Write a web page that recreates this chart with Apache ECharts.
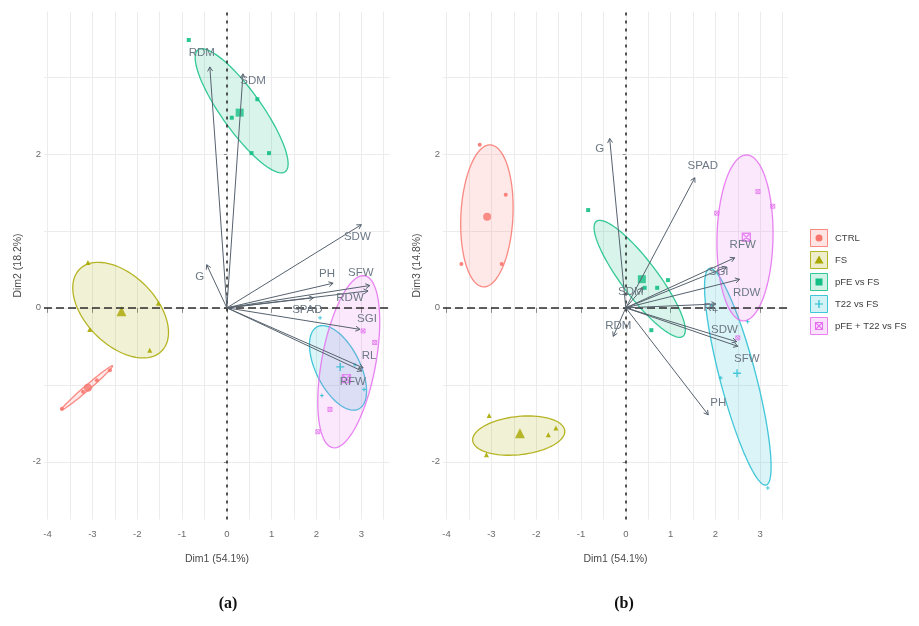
<!DOCTYPE html>
<html>
<head>
<meta charset="utf-8">
<script src="https://cdn.jsdelivr.net/npm/echarts@6/dist/echarts.min.js"></script>
<style>
  html, body { margin: 0; padding: 0; background: #ffffff; }
  #chart { width: 919px; height: 626px; }
</style>
</head>
<body>
<div id="chart"></div>
<script>
// ---------- data ----------
const groups = ["CTRL", "FS", "pFE vs FS", "T22 vs FS", "pFE + T22 vs FS"];
const variables = ["G", "SPAD", "PH", "RL", "SFW", "SDW", "RFW", "RDW", "SDM", "RDM", "SGI"];
const xTicks = [-4, -3, -2, -1, 0, 1, 2, 3];
const yTicks = [-2, 0, 2];

// (a) individual scores, Dim1 x Dim2
const scoresA_CTRL   = [[-3.68, -1.31], [-3.21, -1.09], [-2.90, -0.94], [-2.61, -0.81]];
const scoresA_FS     = [[-3.10, 0.59], [-3.06, -0.28], [-1.72, -0.55], [-1.53, 0.06]];
const scoresA_PFE    = [[-0.85, 3.48], [0.68, 2.71], [0.55, 2.01], [0.94, 2.01], [0.11, 2.47]];
const scoresA_T22    = [[2.12, -1.14], [2.08, -0.13], [3.06, -1.06], [2.86, -0.74]];
const scoresA_PFET22 = [[3.30, -0.45], [3.04, -0.30], [2.03, -1.61], [2.30, -1.32]];

// (a) confidence ellipses: centre, semi-diameter u, semi-diameter v (Dim1, Dim2 units)
const ellipseA_CTRL   = [-3.12, -1.04, 0.57, 0.286, 0.036, -0.025];
const ellipseA_FS     = [-2.37, -0.03, 0.915, -0.532, 0.552, 0.321];
const ellipseA_PFE    = [0.33, 2.56, 0.971, -0.792, 0.364, 0.151];
const ellipseA_T22    = [2.48, -0.78, 0.46, -0.535, 0.44, 0.127];
const ellipseA_PFET22 = [2.72, -0.70, -0.357, -1.117, 0.592, -0.064];

// (a) variable loadings (same order as `variables`)
const loadingsA = [[-0.45, 0.56], [1.93, 0.13], [2.37, 0.32], [3.04, -0.78], [3.19, 0.29],
                   [3.00, 1.08], [3.01, -0.82], [3.15, 0.22], [0.36, 3.04], [-0.38, 3.13], [2.97, -0.28]];

// (b) individual scores, Dim1 x Dim3
const scoresB_CTRL   = [[-3.26, 2.12], [-2.68, 1.47], [-3.67, 0.57], [-2.77, 0.57]];
const scoresB_FS     = [[-3.05, -1.40], [-3.11, -1.91], [-1.73, -1.65], [-1.56, -1.56]];
const scoresB_PFE    = [[-0.84, 1.27], [0.94, 0.36], [0.70, 0.26], [0.57, -0.29], [0.42, 0.26]];
const scoresB_T22    = [[3.17, -2.34], [2.12, -0.91], [1.92, 0.03], [2.72, -0.18]];
const scoresB_PFET22 = [[2.95, 1.51], [3.28, 1.32], [2.03, 1.23], [2.50, -0.39]];

// (b) confidence ellipses
const ellipseB_CTRL   = [-3.10, 1.195, 0.078, 0.922, 0.58, -0.017];
const ellipseB_FS     = [-2.39, -1.66, 1.027, 0.065, 0.045, -0.247];
const ellipseB_PFE    = [0.31, 0.377, 0.967, -0.747, 0.321, 0.140];
const ellipseB_T22    = [2.50, -0.896, 0.633, -1.407, 0.389, 0.059];
const ellipseB_PFET22 = [2.66, 0.909, 0.038, 1.078, 0.625, -0.008];

// (b) variable loadings
const loadingsB = [[-0.36, 2.20], [1.54, 1.69], [1.84, -1.39], [2.01, 0.05], [2.50, -0.50],
                   [2.47, -0.44], [2.43, 0.65], [2.54, 0.37], [0.38, 0.26], [-0.28, -0.37], [2.25, 0.53]];

// ---------- styling ----------
const groupColors = ["#F8766D", "#A9A800", "#14BF85", "#22BDD2", "#E46FEF"];
const groupSymbols = ["circle", "triangle", "rect",
  "path://M5,0L5,10M0,5L10,5",
  "path://M0,0L10,0L10,10L0,10ZM0,0L10,10M10,0L0,10"];
const strokeOnly = [false, false, false, true, true];
const arrowColor = "#56626e";
const arrowLabelColor = "#6c7884";
const FONT = '"Liberation Sans", Arial, sans-serif';

// label placement around each arrow tip (pixels)
const labelOffsetA = { G: [-7, 12], SPAD: [-6, 12], PH: [-6, -9], RL: [6, -12], SFW: [-9, -13],
  SDW: [-4, 12], RFW: [-9, 11], RDW: [-18, 7], SDM: [10, 7], RDM: [-8, -14], SGI: [7, -11] };
const labelOffsetB = { G: [-10, 10], SPAD: [8, -12], PH: [10, -12], RL: [-5, 4], SFW: [9, 13],
  SDW: [-12, -12], RFW: [8, -13], RDW: [7, 13], SDM: [-12, 4], RDM: [5, -10], SGI: [-8, 5] };

const panels = [
  { scores: [scoresA_CTRL, scoresA_FS, scoresA_PFE, scoresA_T22, scoresA_PFET22],
    ellipses: [ellipseA_CTRL, ellipseA_FS, ellipseA_PFE, ellipseA_T22, ellipseA_PFET22],
    loadings: loadingsA, offsets: labelOffsetA },
  { scores: [scoresB_CTRL, scoresB_FS, scoresB_PFE, scoresB_T22, scoresB_PFET22],
    ellipses: [ellipseB_CTRL, ellipseB_FS, ellipseB_PFE, ellipseB_T22, ellipseB_PFET22],
    loadings: loadingsB, offsets: labelOffsetB }
];

function hexAlpha(hex, a) {
  const n = parseInt(hex.slice(1), 16);
  return `rgba(${(n >> 16) & 255},${(n >> 8) & 255},${n & 255},${a})`;
}
function mean(pts) {
  const s = pts.reduce((acc, p) => [acc[0] + p[0], acc[1] + p[1]], [0, 0]);
  return [s[0] / pts.length, s[1] / pts.length];
}
function halves(a, b) { const r = []; for (let v = a; v <= b + 1e-9; v += 0.5) r.push(v); return r; }

// ---------- axes ----------
const grids = [
  { left: 44, top: 11.5, width: 346, height: 508 },
  { left: 443, top: 11.5, width: 345, height: 508 }
];
const xRanges = [[-4.08, 3.64], [-4.08, 3.62]];
const yRange = [-2.75, 3.85];
const yNames = ["Dim2 (18.2%)", "Dim3 (14.8%)"];

const axisText = { color: "#6a6a6a", fontSize: 9.5, fontFamily: FONT };
const xAxis = [], yAxis = [];
[0, 1].forEach(i => {
  xAxis.push({
    gridIndex: i, type: "value", min: xRanges[i][0], max: xRanges[i][1],
    axisLine: { show: false },
    axisTick: { show: true, customValues: xTicks, length: 5, lineStyle: { color: "#8a8a8a" } },
    axisLabel: Object.assign({ customValues: xTicks, margin: 10 }, axisText),
    splitLine: { show: false },
    name: "Dim1 (54.1%)", nameLocation: "middle", nameGap: 34,
    nameTextStyle: { color: "#4a4a4a", fontSize: 10.5, fontFamily: FONT }
  });
  yAxis.push({
    gridIndex: i, type: "value", min: yRange[0], max: yRange[1],
    axisLine: { show: false },
    axisTick: { show: true, customValues: yTicks, length: 3, lineStyle: { color: "#8a8a8a" } },
    axisLabel: Object.assign({ customValues: yTicks, margin: 3 }, axisText),
    splitLine: { show: false },
    name: yNames[i], nameLocation: "middle", nameGap: 20, nameRotate: 90,
    nameTextStyle: { color: "#4a4a4a", fontSize: 10.5, fontFamily: FONT }
  });
});
// background grid lines
[0, 1].forEach(i => {
  xAxis.push({
    gridIndex: i, type: "value", min: xRanges[i][0], max: xRanges[i][1], position: "bottom",
    axisLine: { show: false }, axisLabel: { show: false },
    axisTick: { show: false, customValues: halves(-4, 3.5) },
    splitLine: { show: true, lineStyle: { color: "#ececec", width: 1 } }
  });
  yAxis.push({
    gridIndex: i, type: "value", min: yRange[0], max: yRange[1], position: "left",
    axisLine: { show: false }, axisLabel: { show: false },
    axisTick: { show: false, customValues: [-2, -1, 0, 1, 2, 3] },
    splitLine: { show: true, lineStyle: { color: "#ececec", width: 1 } }
  });
});

// ---------- series ----------
const series = [];
panels.forEach((panel, pi) => {
  // zero reference lines
  series.push({
    type: "line", xAxisIndex: pi, yAxisIndex: pi, data: [], silent: true,
    markLine: {
      symbol: "none", silent: true, label: { show: false }, animation: false,
      data: [
        { xAxis: 0, lineStyle: { color: "#2b2b2b", width: 1.6, type: [3, 5] } },
        { yAxis: 0, lineStyle: { color: "#2b2b2b", width: 1.6, type: [8, 4] } }
      ]
    }
  });

  groups.forEach((g, gi) => {
    const col = groupColors[gi];
    // ellipse
    series.push({
      type: "custom", xAxisIndex: pi, yAxisIndex: pi, z: 1, silent: true,
      data: [panel.ellipses[gi]],
      renderItem: (params, api) => {
        const e = [0, 1, 2, 3, 4, 5].map(k => api.value(k));
        const pts = [];
        for (let k = 0; k <= 90; k++) {
          const t = (k / 90) * Math.PI * 2;
          const c = Math.cos(t), s = Math.sin(t);
          pts.push(api.coord([e[0] + e[2] * c + e[4] * s, e[1] + e[3] * c + e[5] * s]));
        }
        return {
          type: "polygon", shape: { points: pts },
          style: { fill: hexAlpha(col, 0.16), stroke: hexAlpha(col, 0.85), lineWidth: 1.3 }
        };
      }
    });
    // individuals
    series.push({
      type: "scatter", xAxisIndex: pi, yAxisIndex: pi, z: 3, silent: true,
      data: panel.scores[gi], symbol: groupSymbols[gi], symbolSize: gi === 1 ? 5 : 4,
      itemStyle: strokeOnly[gi]
        ? { color: "rgba(0,0,0,0)", borderColor: col, borderWidth: 1 }
        : { color: col, opacity: 0.9 }
    });
    // group centroid
    series.push({
      type: "scatter", xAxisIndex: pi, yAxisIndex: pi, z: 4, silent: true,
      data: [mean(panel.scores[gi])], symbol: groupSymbols[gi], symbolSize: gi === 1 ? 10 : 8,
      itemStyle: strokeOnly[gi]
        ? { color: "rgba(0,0,0,0)", borderColor: col, borderWidth: 1.4 }
        : { color: col }
    });
  });

  // variable arrows
  series.push({
    type: "custom", xAxisIndex: pi, yAxisIndex: pi, z: 5, silent: true,
    data: panel.loadings.map((p, k) => [p[0], p[1], k]),
    renderItem: (params, api) => {
      const o = api.coord([0, 0]);
      const t = api.coord([api.value(0), api.value(1)]);
      const name = variables[api.value(2)];
      const off = panel.offsets[name] || [0, 0];
      const ang = Math.atan2(t[1] - o[1], t[0] - o[0]);
      const h = 5, w = Math.PI / 6;
      const p1 = [t[0] - h * Math.cos(ang - w), t[1] - h * Math.sin(ang - w)];
      const p2 = [t[0] - h * Math.cos(ang + w), t[1] - h * Math.sin(ang + w)];
      return {
        type: "group", children: [
          { type: "line", shape: { x1: o[0], y1: o[1], x2: t[0], y2: t[1] },
            style: { stroke: arrowColor, lineWidth: 1 } },
          { type: "polyline", shape: { points: [p1, t, p2] },
            style: { stroke: arrowColor, lineWidth: 1, fill: null } },
          { type: "text", x: t[0] + off[0], y: t[1] + off[1],
            style: { text: name, fill: arrowLabelColor, font: `11.5px ${FONT}`,
                     align: "center", verticalAlign: "middle" } }
        ]
      };
    }
  });
});

// ---------- legend & panel tags ----------
const graphic = [];
groups.forEach((g, gi) => {
  const col = groupColors[gi];
  const cy = 238 + gi * 22, cx = 819;
  graphic.push({ type: "rect", shape: { x: cx - 8.5, y: cy - 8.5, width: 17, height: 17 },
    style: { fill: hexAlpha(col, 0.2), stroke: hexAlpha(col, 0.85), lineWidth: 1 } });
  let m;
  if (gi === 0) m = { type: "circle", shape: { cx, cy, r: 3.5 }, style: { fill: col } };
  else if (gi === 1) m = { type: "polygon", shape: { points: [[cx, cy - 4.5], [cx + 4.5, cy + 3.5], [cx - 4.5, cy + 3.5]] }, style: { fill: col } };
  else if (gi === 2) m = { type: "rect", shape: { x: cx - 3.5, y: cy - 3.5, width: 7, height: 7 }, style: { fill: col } };
  else if (gi === 3) m = { type: "polyline", shape: { points: [[cx - 4, cy], [cx + 4, cy], [cx, cy], [cx, cy - 4], [cx, cy + 4]] }, style: { stroke: col, lineWidth: 1.2, fill: null } };
  else m = { type: "group", children: [
    { type: "rect", shape: { x: cx - 3.5, y: cy - 3.5, width: 7, height: 7 }, style: { stroke: col, fill: null, lineWidth: 1.1 } },
    { type: "polyline", shape: { points: [[cx - 3.5, cy - 3.5], [cx + 3.5, cy + 3.5]] }, style: { stroke: col, lineWidth: 1.1, fill: null } },
    { type: "polyline", shape: { points: [[cx + 3.5, cy - 3.5], [cx - 3.5, cy + 3.5]] }, style: { stroke: col, lineWidth: 1.1, fill: null } }
  ] };
  graphic.push(m);
  graphic.push({ type: "text", x: 835, y: cy,
    style: { text: g, fill: "#3c3c3c", font: `9.5px ${FONT}`, align: "left", verticalAlign: "middle" } });
});
graphic.push({ type: "text", x: 228, y: 604,
  style: { text: "(a)", fill: "#111", font: 'bold 16px "Liberation Serif", "Times New Roman", serif', align: "center", verticalAlign: "middle" } });
graphic.push({ type: "text", x: 624, y: 604,
  style: { text: "(b)", fill: "#111", font: 'bold 16px "Liberation Serif", "Times New Roman", serif', align: "center", verticalAlign: "middle" } });

const chart = echarts.init(document.getElementById("chart"), null, { renderer: "canvas" });
chart.setOption({
  animation: false,
  backgroundColor: "#ffffff",
  grid: grids,
  xAxis, yAxis, series, graphic
});
</script>
</body>
</html>
